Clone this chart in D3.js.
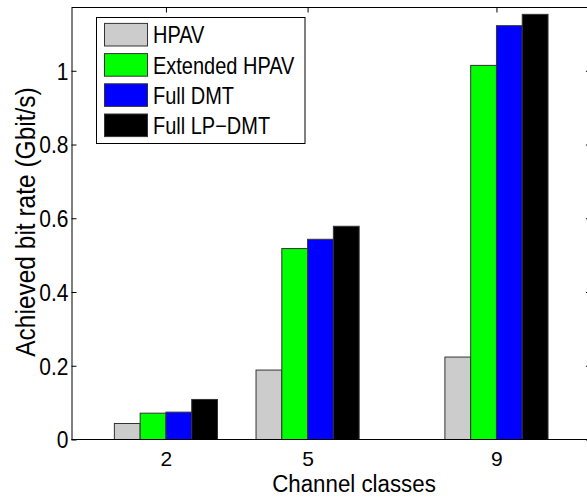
<!DOCTYPE html>
<html><head><meta charset="utf-8">
<script src="https://cdn.jsdelivr.net/npm/d3@7"></script>
<style>
html,body{margin:0;padding:0;background:#fff;}
svg{display:block;font-family:"Liberation Sans",Arial,Helvetica,sans-serif;}
</style></head>
<body>
<svg id="chart" width="587" height="498"></svg>
<script>
const categories = [2, 5, 9];
const seriesNames = ["HPAV", "Extended HPAV", "Full DMT", "Full LP\u2212DMT"];
const seriesColors = ["#cccccc", "#00ff00", "#0000ff", "#000000"];
const hpav = [0.0434, 0.1883, 0.2236];
const extendedHpav = [0.0714, 0.5178, 1.0146];
const fullDmt = [0.0742, 0.5430, 1.1223];
const fullLpDmt = [0.1086, 0.5783, 1.1530];
const yTicks = [0, 0.2, 0.4, 0.6, 0.8, 1];
const yTickLabels = ["0", "0.2", "0.4", "0.6", "0.8", "1"];
const xTickLabels = ["2", "5", "9"];
const xLabel = "Channel classes";
const yLabel = "Achieved bit rate (Gbit/s)";

const series = [hpav, extendedHpav, fullDmt, fullLpDmt];

const svg = d3.select("#chart");
const L = 71.5, R = 590.9, T = 7.5, B = 439.5;
const x = d3.scaleLinear().domain([0, 11]).range([L, R]);
const y = d3.scaleLinear().domain([0, 1.1716]).range([B, T]);
const slot = 0.546; // bar width in x units

// bars
series.forEach((vals, si) => {
  svg.append("g").selectAll("rect").data(vals).join("rect")
    .attr("x", (d, i) => x(categories[i] + (si - 2) * slot))
    .attr("width", x(slot) - x(0))
    .attr("y", d => y(d))
    .attr("height", d => y(0) - y(d))
    .attr("fill", seriesColors[si])
    .attr("stroke", "#333")
    .attr("stroke-width", 1);
});

// box lines
svg.append("line").attr("x1", L).attr("x2", R).attr("y1", T).attr("y2", T).attr("stroke", "#000");
svg.append("line").attr("x1", L).attr("x2", R).attr("y1", B).attr("y2", B).attr("stroke", "#000");
svg.append("line").attr("x1", R).attr("x2", R).attr("y1", T).attr("y2", B).attr("stroke", "#000");

// y axis (left)
const yAxis = d3.axisLeft(y).tickValues(yTicks).tickFormat((d, i) => yTickLabels[i]).tickSizeInner(-5).tickSizeOuter(0).tickPadding(0);
const gy = svg.append("g").attr("transform", `translate(${L},0)`).call(yAxis);
gy.select(".domain").attr("stroke", "#000");
gy.selectAll(".tick line").attr("stroke", "#000");
gy.selectAll(".tick text")
  .attr("x", null).attr("dy", null)
  .attr("font-size", 21).attr("fill", "#000").attr("text-anchor", "end")
  .attr("transform", "translate(-3,0) scale(1,1.12) translate(0,7.5)");

// right-side ticks
const gyr = svg.append("g").attr("transform", `translate(${R},0)`)
  .call(d3.axisRight(y).tickValues(yTicks).tickFormat("").tickSizeInner(-5).tickSizeOuter(0));
gyr.select(".domain").attr("stroke", "#000");
gyr.selectAll(".tick line").attr("stroke", "#000");

// x axis (bottom labels)
const xAxis = d3.axisBottom(x).tickValues(categories).tickFormat((d, i) => xTickLabels[i]).tickSizeInner(-5).tickSizeOuter(0).tickPadding(0);
const gx = svg.append("g").attr("transform", `translate(0,${B})`).call(xAxis);
gx.select(".domain").remove();
gx.selectAll(".tick line").remove();
gx.selectAll(".tick text")
  .attr("y", null).attr("dy", null)
  .attr("font-size", 21).attr("fill", "#000").attr("text-anchor", "middle")
  .attr("transform", "translate(0,26) scale(1,1.0)");

// top ticks
const gxt = svg.append("g").attr("transform", `translate(0,${T})`)
  .call(d3.axisTop(x).tickValues(categories).tickFormat("").tickSizeInner(-5).tickSizeOuter(0));
gxt.select(".domain").remove();
gxt.selectAll(".tick line").attr("stroke", "#000");

// labels
svg.append("text").text(xLabel)
  .attr("font-size", 22.3).attr("text-anchor", "middle")
  .attr("transform", "translate(354,492) scale(1,1.06)");
svg.append("text").text(yLabel)
  .attr("font-size", 24.5).attr("text-anchor", "middle")
  .attr("transform", "translate(35,222) rotate(-90) scale(1,1.12)");

// legend
const lg = svg.append("g");
lg.append("rect").attr("x", 96.5).attr("y", 17.5).attr("width", 208.5).attr("height", 126)
  .attr("fill", "#fff").attr("stroke", "#000");
seriesNames.forEach((name, i) => {
  const cy = 34.7 + i * 30.2;
  lg.append("rect").attr("x", 104.5).attr("y", cy - 11.3).attr("width", 43).attr("height", 22.6)
    .attr("fill", seriesColors[i]).attr("stroke", "#333");
  lg.append("text").text(name).attr("font-size", 20)
    .attr("transform", `translate(153,${cy + 8.6}) scale(1,1.17)`);
});
</script>
</body></html>
